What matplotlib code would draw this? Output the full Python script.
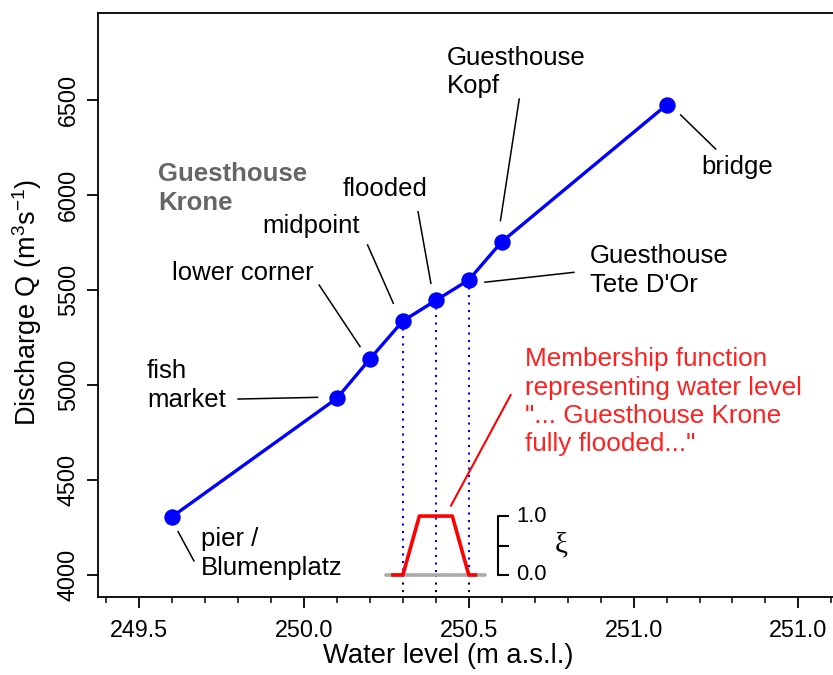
import numpy as np
import matplotlib
matplotlib.use('Agg')
import matplotlib.pyplot as plt

plt.rcParams['font.family'] = ['Liberation Sans', 'DejaVu Sans']
plt.rcParams['mathtext.fontset'] = 'custom'
plt.rcParams['mathtext.rm'] = 'Liberation Sans'
plt.rcParams['mathtext.it'] = 'Liberation Sans'

# rating curve (water level vs discharge)
level = [249.6, 250.1, 250.2, 250.3, 250.4, 250.5, 250.6, 251.1]
discharge = [4307, 4930, 5137, 5337, 5445, 5553, 5754, 6474]

# membership function "Guesthouse Krone fully flooded"
mf_level = [250.27, 250.3, 250.35, 250.45, 250.5, 250.52]
mf_value = [0, 0, 1, 1, 0, 0]
mf_base = [250.25, 250.55]
mf_height = 310  # discharge units used for xi = 1
drop_levels = [250.3, 250.4, 250.5]

xticks = [249.5, 250.0, 250.5, 251.0, 251.5]
xticklabels = ['249.5', '250.0', '250.5', '251.0', '251.0']
yticks = [4000, 4500, 5000, 5500, 6000, 6500]

# labels: text, text anchor (x, y), leader line (x0, y0, x1, y1)
labels = [
    ('pier /\nBlumenplatz', (249.688, 4112), (249.618, 4228, 249.666, 4074), 'left'),
    ('fish\nmarket', (249.524, 4996), (249.800, 4926, 250.041, 4935), 'left'),
    ('lower corner', (249.813, 5588), (250.046, 5526, 250.170, 5202), 'center'),
    ('midpoint', (250.020, 5837), (250.193, 5737, 250.271, 5430), 'center'),
    ('flooded', (250.246, 6030), (250.346, 5912, 250.385, 5535), 'center'),
    ('Guesthouse\nTete D\'Or', (250.867, 5602), (250.549, 5541, 250.819, 5593), 'left'),
    ('Guesthouse\nKopf', (250.434, 6648), (250.653, 6505, 250.596, 5865), 'left'),
    ('bridge', (251.206, 6149), (251.143, 6421, 251.249, 6242), 'left'),
]

fig = plt.figure(figsize=(8.33, 6.75), dpi=100)
ax = fig.add_axes([98/833, 1-597/675, 1-98/833, (597-13)/675])

ax.set_xlim(249.375, 251.605)
ax.set_ylim(3884, 6958)

# dotted drop lines
for lv, q in zip(level, discharge):
    if lv in drop_levels:
        ax.plot([lv, lv], [q, 4000], color='blue', lw=1.5, ls=(0, (1, 2.6)))
        ax.plot([lv, lv], [4000, 3884], color='black', lw=1.5, ls=(0, (1, 2.6)))

ax.plot(mf_base, [4000, 4000], color='#aaaaaa', lw=2.6, solid_capstyle='round')
ax.plot(mf_level, 4000 + np.array(mf_value) * mf_height, color='red', lw=2.6)

ax.plot(level, discharge, color='blue', lw=2.4, marker='o', ms=10.8)

# xi scale
ax.plot([250.62, 250.589, 250.589, 250.62], [4000 + mf_height, 4000 + mf_height, 4000, 4000],
        color='black', lw=1.5)
ax.plot([250.589, 250.62], [4000 + mf_height/2]*2, color='black', lw=1.5)
ax.text(250.645, 4000 + mf_height, '1.0', fontsize=15.8, ha='left', va='center')
ax.text(250.645, 4000, '0.0', fontsize=15.8, ha='left', va='center')
ax.text(250.782, 4000 + mf_height/2, 'ξ', fontsize=21, ha='center', va='center',
        family=['Liberation Serif', 'DejaVu Serif'])

for txt, (tx, ty), (x0, y0, x1, y1), ha in labels:
    ax.text(tx, ty, txt, fontsize=18.5, ha=ha, va='center', linespacing=1.25)
    ax.plot([x0, x1], [y0, y1], color='black', lw=1.1)

ax.text(249.558, 6035, 'Guesthouse\nKrone', fontsize=18.5, fontweight='bold',
        color='#666666', ha='left', va='center', linespacing=1.25)

ax.text(250.670, 4912, 'Membership function\nrepresenting water level\n'
        '"... Guesthouse Krone\nfully flooded..."', fontsize=18.8, color='#ff2020',
        ha='left', va='center', linespacing=1.22)
ax.plot([250.627, 250.446], [4947, 4365], color='red', lw=1.5)

ax.spines['right'].set_visible(False)
for s in ['left', 'bottom', 'top']:
    ax.spines[s].set_linewidth(1.3)

ax.set_xticks(xticks)
ax.set_xticklabels(xticklabels)
ax.set_xticks(np.arange(249.4, 251.65, 0.1), minor=True)
ax.set_yticks(yticks)
ax.tick_params(axis='both', which='major', length=8, width=1.3, labelsize=16.8)
ax.tick_params(axis='x', which='major', pad=8)
ax.tick_params(axis='y', which='major', pad=5)
ax.tick_params(axis='x', which='minor', length=4, width=1.1)
ax.tick_params(axis='y', labelrotation=90)
for lab in ax.get_yticklabels():
    lab.set_va('center')

fig.text(448/833, 1 - 663/675, 'Water level (m a.s.l.)', fontsize=19.7, ha='center', va='baseline')
fig.text(27/833, 1 - 302/675, r'Discharge Q (m$^3$s$^{-1}$)', fontsize=19.5, rotation=90,
         ha='center', va='center')

fig.savefig('out.png', dpi=100)
